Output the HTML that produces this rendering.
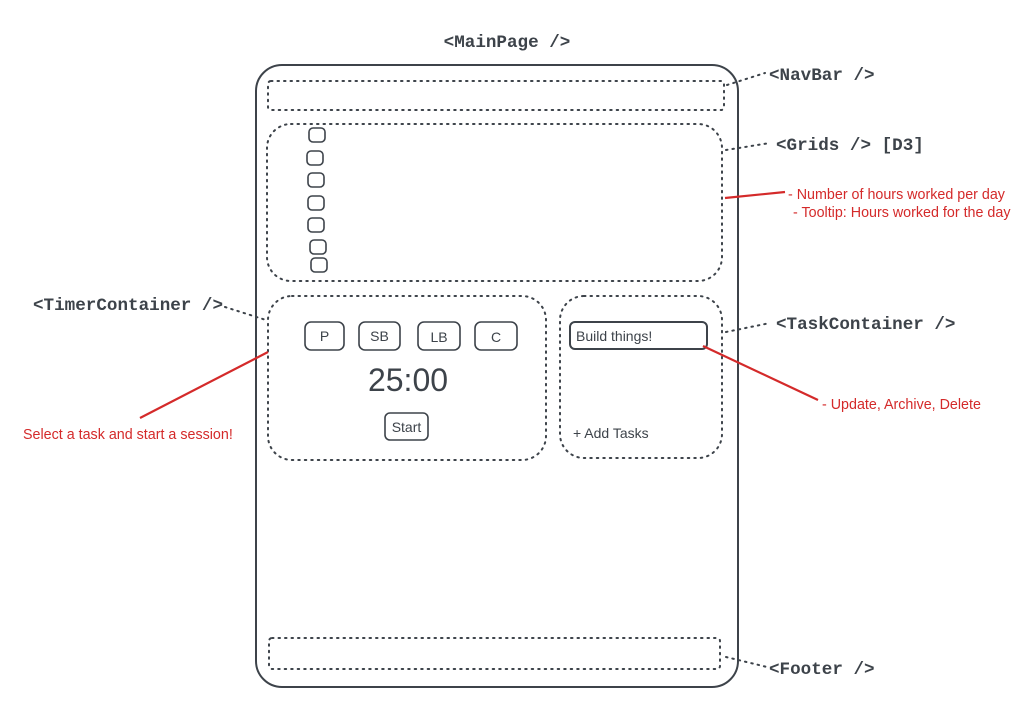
<!DOCTYPE html>
<html><head><style>
body{margin:0;background:#fff;width:1029px;height:705px;overflow:hidden}
svg{display:block}
.m{font-family:"Liberation Mono",monospace;font-size:17.6px;font-weight:bold;fill:#3d434a}
.s{font-family:"Liberation Sans",sans-serif;fill:#3d434a}
.r{font-family:"Liberation Sans",sans-serif;font-size:14.3px;fill:#d42a2a}
</style></head><body>
<svg width="1029" height="705" viewBox="0 0 1029 705">
<g fill="none" stroke="#3d434a">
<rect x="256" y="65" width="482" height="622" rx="26" stroke-width="2"/>
<g stroke-width="2" stroke-dasharray="1.5 5" stroke-linecap="round">
<rect x="268" y="81" width="456" height="29" rx="3"/>
<rect x="267" y="124" width="455" height="157" rx="24"/>
<rect x="268" y="296" width="278" height="164" rx="24"/>
<rect x="560" y="296" width="162" height="162" rx="24"/>
<rect x="269" y="638" width="451" height="31" rx="3"/>
<path d="M727 85 L765 73 M726 150 L770 143 M225 307 L266 320 M726 332 L770 323 M726 657 L767 667"/>
</g>
<g stroke-width="1.6">
<rect x="309" y="128" width="16" height="14" rx="4"/>
<rect x="307" y="151" width="16" height="14" rx="4"/>
<rect x="308" y="173" width="16" height="14" rx="4"/>
<rect x="308" y="196" width="16" height="14" rx="4"/>
<rect x="308" y="218" width="16" height="14" rx="4"/>
<rect x="310" y="240" width="16" height="14" rx="4"/>
<rect x="311" y="258" width="16" height="14" rx="4"/>
<rect x="305" y="322" width="39" height="28" rx="6"/>
<rect x="359" y="322" width="41" height="28" rx="6"/>
<rect x="418" y="322" width="42" height="28" rx="6"/>
<rect x="475" y="322" width="42" height="28" rx="6"/>
<rect x="385" y="413" width="43" height="27" rx="5"/>
<rect x="570" y="322" width="137" height="27" rx="5" stroke-width="2"/>
</g>
<g stroke="#d42a2a" stroke-width="2.2">
<path d="M725 198 L785 192 M140 418 L268 352 M703 346 L818 400"/>
</g>
</g>
<text class="m" x="507" y="47" text-anchor="middle">&lt;MainPage /&gt;</text>
<text class="m" x="769" y="80">&lt;NavBar /&gt;</text>
<text class="m" x="776" y="150">&lt;Grids /&gt; [D3]</text>
<text class="m" x="33" y="310">&lt;TimerContainer /&gt;</text>
<text class="m" x="776" y="329">&lt;TaskContainer /&gt;</text>
<text class="m" x="769" y="674">&lt;Footer /&gt;</text>
<g class="s" font-size="14" text-anchor="middle">
<text x="324.5" y="341">P</text><text x="379.5" y="341">SB</text><text x="439" y="342">LB</text><text x="496" y="342">C</text>
<text x="406.5" y="432">Start</text>
</g>
<text class="s" x="408" y="391" font-size="32" text-anchor="middle">25:00</text>
<text class="s" x="576" y="341" font-size="14">Build things!</text>
<text class="s" x="573" y="438" font-size="14">+ Add Tasks</text>
<text class="r" x="788" y="199">- Number of hours worked per day</text>
<text class="r" x="793" y="217">- Tooltip: Hours worked for the day</text>
<text class="r" x="23" y="439">Select a task and start a session!</text>
<text class="r" x="822" y="409">- Update, Archive, Delete</text>
</svg>
</body></html>
